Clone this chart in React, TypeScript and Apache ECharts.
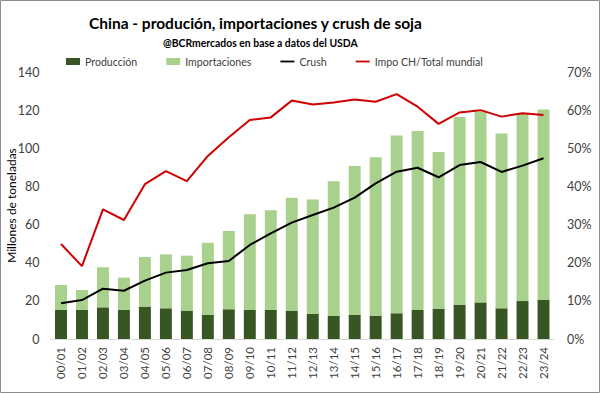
import React, { useEffect, useRef } from "react";
import * as echarts from "echarts";

const categories = ["00/01","01/02","02/03","03/04","04/05","05/06","06/07","07/08","08/09","09/10","10/11","11/12","12/13","13/14","14/15","15/16","16/17","17/18","18/19","19/20","20/21","21/22","22/23","23/24"];
const produccion = [15.2,15.2,16.6,15.2,17.0,16.1,14.9,12.6,15.6,15.2,15.2,14.9,13.1,12.2,12.6,12.2,13.5,15.2,15.9,18.0,19.2,16.1,19.9,20.5];
const totalOferta = [28.3,25.7,37.6,32.2,43.0,44.4,43.7,50.5,56.6,65.4,67.5,74.1,73.1,82.7,90.7,95.3,106.7,109.1,98.1,116.4,119.2,107.7,118.3,120.3];
const crush = [18.7,20.4,26.4,25.3,30.6,34.8,36.2,39.7,40.9,49.3,55.4,61.0,65.0,68.9,74.1,81.6,87.7,89.8,84.8,91.2,92.8,87.6,90.9,94.8];
const impoShare = [24.9,19.1,34.0,31.2,40.6,44.0,41.4,48.0,52.9,57.4,58.1,62.5,61.5,62.0,62.8,62.2,64.2,60.9,56.4,59.4,60.0,58.3,59.2,58.7];
const importaciones = totalOferta.map((t, i) => Math.round((t - produccion[i]) * 10) / 10);

const FONT = "Lato, 'Noto Sans', sans-serif";
const TXT = "#404040";
const LINE_ICON = "path://M0,0 M0,2.6 L14,2.6 L14,4.4 L0,4.4 Z M14,7";

export default function App() {
  const ref = useRef<HTMLDivElement>(null);
  useEffect(() => {
    if (!ref.current) return;
    const chart = echarts.init(ref.current, null, { renderer: "svg" });
    chart.setOption({
      animation: false,
      backgroundColor: "#ffffff",
      textStyle: { fontFamily: FONT },
      title: [
        {
          text: "China - produción, importaciones y crush de soja",
          left: 84, top: 10,
          textStyle: { fontFamily: FONT, fontSize: 15.5, fontWeight: "bold", color: "#000" },
        },
        {
          text: "@BCRmercados en base a datos del USDA",
          left: 158, top: 33,
          textStyle: { fontFamily: FONT, fontSize: 10.4, fontWeight: "bold", color: "#000" },
        },
      ],
      legend: {
        left: 61, top: 51,
        itemWidth: 14, itemHeight: 7, itemGap: 29,
        textStyle: { fontFamily: FONT, fontSize: 10.6, color: TXT },
        data: [
          { name: "Producción", icon: "rect" },
          { name: "Importaciones", icon: "rect" },
          { name: "Crush", icon: LINE_ICON },
          { name: "Impo CH/Total mundial", icon: LINE_ICON },
        ],
      },
      graphic: [
        {
          type: "rect", silent: true, z: -1,
          shape: { x: 0.5, y: 0.5, width: 599, height: 392 },
          style: { fill: "none", stroke: "#8c8c8c", lineWidth: 1 },
        },
      ],
      grid: { left: 50.5, right: 46, top: 72, bottom: 54, containLabel: false, outerBoundsMode: "none" },
      xAxis: {
        type: "category",
        data: categories,
        axisLine: { lineStyle: { color: "#d9d9d9" } },
        axisTick: { show: false },
        axisLabel: { rotate: 90, fontSize: 11.5, color: TXT, margin: 8, fontFamily: FONT },
      },
      yAxis: [
        {
          type: "value", min: 0, max: 140, interval: 20,
          name: "Millones de toneladas", nameLocation: "middle", nameGap: 33, nameMoveOverlap: false,
          nameTextStyle: { fontSize: 12, color: "#000", fontFamily: FONT },
          splitLine: { show: false },
          axisLine: { show: false }, axisTick: { show: false },
          axisLabel: { fontSize: 12.5, color: TXT, margin: 11, fontFamily: FONT },
        },
        {
          type: "value", min: 0, max: 70, interval: 10, position: "right",
          splitLine: { show: false },
          axisLine: { show: false }, axisTick: { show: false },
          axisLabel: { fontSize: 12.5, color: TXT, margin: 13, formatter: "{value}%", fontFamily: FONT },
        },
      ],
      series: [
        {
          name: "Producción", type: "bar", stack: "oferta", data: produccion,
          barWidth: "57%", itemStyle: { color: "#375623" },
        },
        {
          name: "Importaciones", type: "bar", stack: "oferta", data: importaciones,
          barWidth: "57%", itemStyle: { color: "#a9d18e" },
        },
        {
          name: "Crush", type: "line", data: crush, symbol: "none",
          lineStyle: { color: "#000000", width: 2 }, itemStyle: { color: "#000000" }, z: 3,
        },
        {
          name: "Impo CH/Total mundial", type: "line", yAxisIndex: 1, data: impoShare, symbol: "none",
          lineStyle: { color: "#d00000", width: 2 }, itemStyle: { color: "#d00000" }, z: 3,
        },
      ],
    });
    return () => chart.dispose();
  }, []);
  return (
    <div style={{ position: "fixed", left: 0, top: 0, width: 600, height: 393 }}>
      <div ref={ref} style={{ width: 600, height: 393 }} />
    </div>
  );
}
